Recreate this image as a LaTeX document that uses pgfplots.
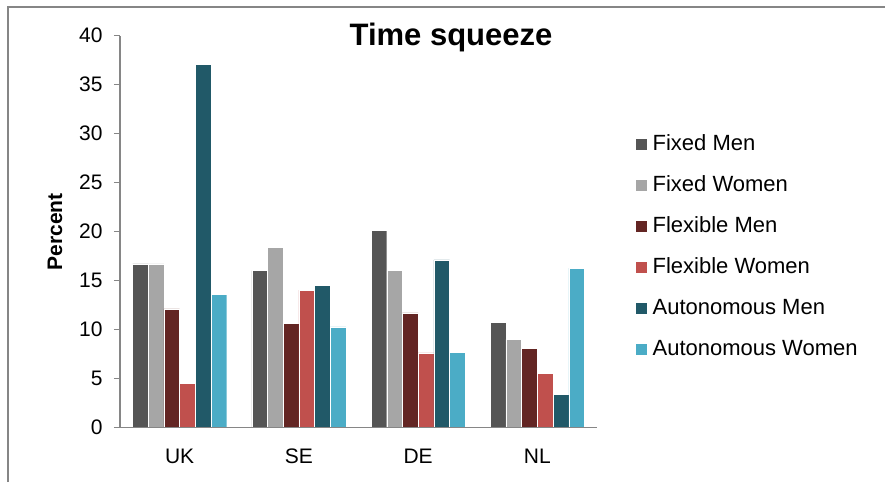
\documentclass[border=0pt]{standalone}
\usepackage{fontspec}
\setmainfont{Liberation Sans}
\usepackage{pgfplots}
\pgfplotsset{compat=1.18}
\definecolor{fm}{HTML}{555555}
\definecolor{fw}{HTML}{A6A6A6}
\definecolor{xm}{HTML}{632523}
\definecolor{xw}{HTML}{C0504D}
\definecolor{am}{HTML}{215968}
\definecolor{aw}{HTML}{4BACC6}
\definecolor{axgray}{HTML}{868686}
\begin{document}
\begin{tikzpicture}
\useasboundingbox (0,0) rectangle (885pt,482pt);
\draw[axgray, line width=1.3pt] (8pt,0) -- (8pt,475pt) -- (885pt,475pt);
\begin{axis}[
  at={(120pt,54.7pt)}, anchor=south west,
  scale only axis, width=477pt, height=391.6pt,
  ybar=0pt, bar width=15.7pt,
  xmin=-0.5, xmax=3.5, ymin=0, ymax=40,
  ytick={0,5,...,40},
  xtick={0,1,2,3}, xticklabels={UK,SE,DE,NL},
  axis lines*=left,
  axis on top,
  axis line style={axgray, line width=1.5pt},
  tick align=outside, major tick length=6pt,
  tick style={axgray, line width=1.3pt},
  x tick style={draw=none},
  extra x ticks={-0.5,0.5,1.5,2.5,3.5}, extra x tick labels={},
  extra x tick style={tick style={draw=axgray, line width=1.3pt}},
  /pgf/number format/assume math mode=true,
  ticklabel style={font=\fontsize{21}{23}\selectfont},
  yticklabel style={xshift=-8pt},
  xticklabel style={yshift=-12pt},
  title={Time squeeze},
  title style={at={(axis description cs:0.694,0.979)}, anchor=center, font=\bfseries\fontsize{31}{32}\selectfont},
  ylabel={Percent},
  ylabel style={at={(axis description cs:-0.136,0.499)}, anchor=center, font=\bfseries\fontsize{21}{23}\selectfont},
  legend style={draw=none, fill=none, at={(axis description cs:1.0797,0.4584)}, anchor=west, inner sep=0pt,
     row sep=22pt, font=\fontsize{22}{24}\selectfont,
     nodes={inner sep=0pt, text height=15pt, text depth=4pt, anchor=base west}},
  legend cell align=left,
  legend image code/.code={\fill[#1] (0pt,1pt) rectangle (12pt,13pt);},
  legend style={/tikz/every odd column/.append style={column sep=5pt}},
]
\addplot[fill=fm, draw=white, line width=0.4pt] coordinates {(0,16.7) (1,16.0) (2,20.1) (3,10.7)};
\addplot[fill=fw, draw=white, line width=0.4pt] coordinates {(0,16.7) (1,18.4) (2,16.0) (3,9.0)};
\addplot[fill=xm, draw=white, line width=0.4pt] coordinates {(0,12.1) (1,10.6) (2,11.7) (3,8.1)};
\addplot[fill=xw, draw=white, line width=0.4pt] coordinates {(0,4.5) (1,14.0) (2,7.6) (3,5.5)};
\addplot[fill=am, draw=white, line width=0.4pt] coordinates {(0,37.1) (1,14.5) (2,17.1) (3,3.4)};
\addplot[fill=aw, draw=white, line width=0.4pt] coordinates {(0,13.6) (1,10.25) (2,7.65) (3,16.25)};
\legend{Fixed Men,Fixed Women,Flexible Men,Flexible Women,Autonomous Men,Autonomous Women}
\end{axis}
\end{tikzpicture}
\end{document}
